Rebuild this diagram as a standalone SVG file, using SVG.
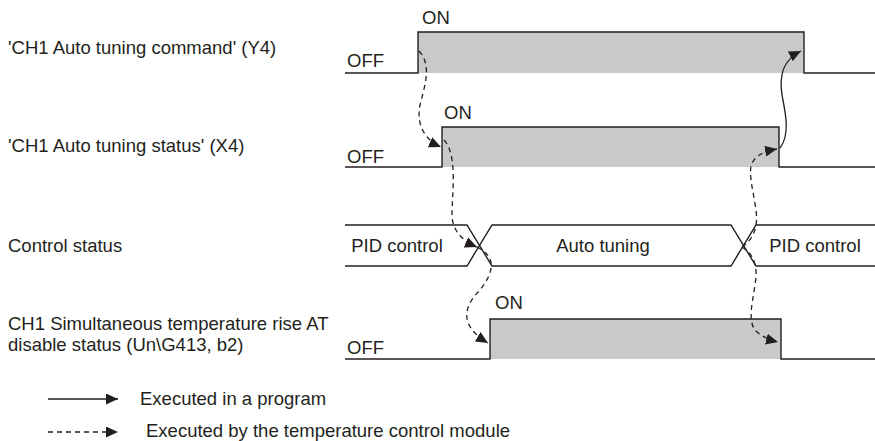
<svg xmlns="http://www.w3.org/2000/svg" width="875" height="441" viewBox="0 0 875 441">
<defs>
<style>
text{font-family:"Liberation Sans",Arial,sans-serif;font-size:18.5px;fill:#231f20}
.sig{fill:none;stroke:#231f20;stroke-width:1.4}
.fill{fill:#c8c9cb;stroke:none}
.solid{fill:none;stroke:#231f20;stroke-width:1.3}
.dash{fill:none;stroke:#231f20;stroke-width:1.3;stroke-dasharray:5,4}
</style>
<marker id="ah" markerUnits="userSpaceOnUse" markerWidth="14" markerHeight="12" refX="12" refY="5.5" orient="auto">
<path d="M0,0 L12,5.5 L0,11 Z" fill="#231f20"/>
</marker>
</defs>
<rect width="875" height="441" fill="#fff"/>

<g id="row-y4">
<text x="8" y="54">'CH1 Auto tuning command' (Y4)</text>
<rect class="fill" x="418" y="32" width="386" height="41"/>
<path class="sig" d="M345,73 H418 V32 H804 V73 H875"/>
<text x="347" y="67">OFF</text>
<text x="422" y="24">ON</text>
</g>

<g id="row-x4">
<text x="8" y="152">'CH1 Auto tuning status' (X4)</text>
<rect class="fill" x="442" y="127" width="337" height="40"/>
<path class="sig" d="M345,167 H442 V127 H779 V167 H875"/>
<text x="347" y="163">OFF</text>
<text x="444" y="119">ON</text>
</g>

<g id="row-control">
<text x="8" y="251.5">Control status</text>
<path class="sig" d="M345,225 H467 L492,266 H731 L756,225 H875"/>
<path class="sig" d="M345,266 H467 L492,225 H731 L756,266 H875"/>
<text x="397" y="251.5" text-anchor="middle">PID control</text>
<text x="603" y="251.5" text-anchor="middle">Auto tuning</text>
<text x="815" y="251.5" text-anchor="middle">PID control</text>
</g>

<g id="row-at">
<text x="8" y="330">CH1 Simultaneous temperature rise AT</text>
<text x="8" y="351">disable status (Un\G413, b2)</text>
<rect class="fill" x="490" y="319" width="291" height="40"/>
<path class="sig" d="M345,359 H490 V319 H781 V359 H875"/>
<text x="347" y="354">OFF</text>
<text x="495" y="309">ON</text>
</g>

<g id="connectors">
<path class="dash" d="M419,51 C432,65 425,85 420,105 C416,125 425,140 441,147" marker-end="url(#ah)"/>
<path class="dash" d="M444,140 C458,155 452,195 452,215 C452,232 465,242 477,247" marker-end="url(#ah)"/>
<path class="dash" d="M477,247 C497,257 494,272 480,290 C464,306 458,325 488,343" marker-end="url(#ah)"/>
<path class="dash" d="M742,247 C755,238 758,225 756,210 C753,190 748,172 752,163 C757,154 766,151 777,149" marker-end="url(#ah)"/>
<path class="dash" d="M742,247 C755,255 758,268 755,285 C752,305 748,320 755,330 C762,337 770,340 778,342" marker-end="url(#ah)"/>
<path class="solid" d="M780,148 C790,135 786,115 782,95 C779,75 783,60 801,51" marker-end="url(#ah)"/>
</g>

<g id="legend">
<path class="solid" d="M48,399 H118" marker-end="url(#ah)"/>
<text x="140" y="405">Executed in a program</text>
<path class="dash" d="M48,432 H118" marker-end="url(#ah)"/>
<text x="146" y="437">Executed by the temperature control module</text>
</g>
</svg>
